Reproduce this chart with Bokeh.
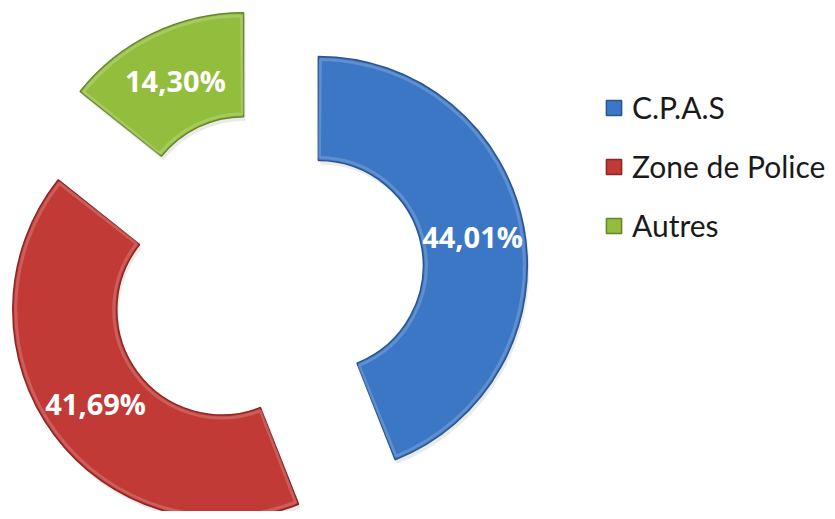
import math
from bokeh.plotting import figure
from bokeh.models import ColumnDataSource, Range1d, Legend, LegendItem
from bokeh.core.properties import value
from bokeh.embed import file_html
from bokeh.resources import INLINE

# ---- data ----
categories = ["C.P.A.S", "Zone de Police", "Autres"]
shares = [44.01, 41.69, 14.30]
labels = ["44,01%", "41,69%", "14,30%"]

# ---- style ----
colors = ["#3C77C5", "#C23A36", "#93BD3D"]
edge_colors = ["#2A5690", "#8C2624", "#64862A"]
explode = [50, 59, 59]          # per-slice explosion distance (px)
W, H = 827, 511
CX, CY = 268.7, 519 - 274.3     # chart centre (px, y up)
R_OUT, R_IN = 209, 105

p = figure(width=W, height=H, output_backend="svg", toolbar_location=None,
           x_range=Range1d(0, W), y_range=Range1d(519 - H, 519),
           min_border=0)
p.axis.visible = False
p.grid.visible = False
p.outline_line_color = None
p.background_fill_color = "white"

total = sum(shares)
xs, ys, sa, ea, lx, ly = [], [], [], [], [], []
acc = 0.0
for s, d in zip(shares, explode):
    t0 = acc / total * 360.0
    acc += s
    t1 = acc / total * 360.0
    mid = math.radians((t0 + t1) / 2)
    cx = CX + d * math.sin(mid)
    cy = CY + d * math.cos(mid)
    xs.append(cx); ys.append(cy)
    sa.append(math.radians(90 - t0)); ea.append(math.radians(90 - t1))
    rm = (R_OUT + R_IN) / 2
    lx.append(cx + rm * math.sin(mid)); ly.append(cy + rm * math.cos(mid))

src = ColumnDataSource(dict(x=xs, y=ys, sa=sa, ea=ea, color=colors, edge=edge_colors,
                            cat=categories, lab=labels, lx=lx, ly=ly,
                            sx=[v + 2 for v in xs], sy=[v - 4 for v in ys]))

# soft shadow
p.annular_wedge(x="sx", y="sy", inner_radius=R_IN, outer_radius=R_OUT,
                start_angle="sa", end_angle="ea", direction="clock", source=src,
                fill_color="#888888", fill_alpha=0.18, line_color=None)

renderers = []
for i in range(len(categories)):
    r = p.annular_wedge(x=xs[i], y=ys[i], inner_radius=R_IN, outer_radius=R_OUT,
                        start_angle=sa[i], end_angle=ea[i], direction="clock",
                        fill_color=colors[i], line_color=edge_colors[i], line_width=1.5)
    renderers.append(r)
    # subtle bevel highlight
    p.annular_wedge(x=xs[i], y=ys[i], inner_radius=R_IN + 3, outer_radius=R_OUT - 3,
                    start_angle=sa[i] - 0.01, end_angle=ea[i] + 0.01, direction="clock",
                    fill_alpha=0, line_color="white", line_alpha=0.18, line_width=3)

p.text(x="lx", y="ly", text="lab", source=src, text_color="white",
       text_font=value("Open Sans"), text_font_style="bold", text_font_size="29px",
       text_align="center", text_baseline="middle")

legend = Legend(items=[LegendItem(label=categories[i], renderers=[renderers[i]])
                       for i in range(len(categories))],
                location=(604, 268), orientation="vertical",
                glyph_width=19, glyph_height=19, label_height=36, spacing=23,
                label_standoff=9, padding=0, margin=0,
                label_text_font="Lato", label_text_font_size="30px",
                label_text_color="#1a1a1a",
                border_line_alpha=0, background_fill_alpha=0)
p.add_layout(legend)

open("out.html", "w").write(file_html(p, INLINE))
